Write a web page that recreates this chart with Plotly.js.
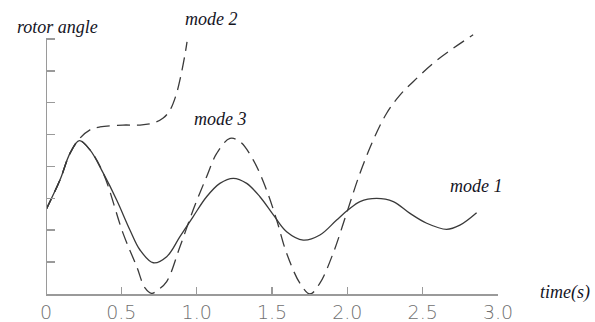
<!DOCTYPE html>
<html>
<head>
<meta charset="utf-8">
<script src="https://cdn.plot.ly/plotly-3.0.1.min.js"></script>
<style>html,body{margin:0;padding:0;background:#fff;}#chart{width:595px;height:322px;}</style>
</head>
<body>
<div id="chart"></div>
<script>
// time (s) and rotor angle (arbitrary units)
const mode1Time  = [0, 0.093, 0.159, 0.221, 0.292, 0.380, 0.469, 0.557, 0.624, 0.712, 0.801, 0.889, 0.977, 1.066, 1.154, 1.243, 1.332, 1.420, 1.509, 1.597, 1.707, 1.818, 1.929, 2.006, 2.084, 2.194, 2.305, 2.416, 2.527, 2.659, 2.747, 2.858];
const mode1Angle = [2.64, 3.58, 4.41, 4.81, 4.52, 3.79, 2.95, 2.01, 1.38, 0.98, 1.17, 1.80, 2.43, 3.05, 3.47, 3.63, 3.47, 3.05, 2.48, 1.95, 1.69, 1.85, 2.32, 2.64, 2.90, 3.00, 2.90, 2.53, 2.22, 2.03, 2.16, 2.55];

const mode2Time  = [0, 0.093, 0.159, 0.226, 0.292, 0.358, 0.511, 0.624, 0.710, 0.778, 0.823, 0.863, 0.896, 0.922, 0.936];
const mode2Angle = [2.64, 3.58, 4.41, 4.89, 5.15, 5.24, 5.30, 5.30, 5.36, 5.52, 5.77, 6.24, 6.87, 7.50, 7.91];

const mode3Time  = [0, 0.093, 0.159, 0.221, 0.292, 0.380, 0.511, 0.602, 0.657, 0.701, 0.743, 0.801, 0.889, 0.977, 1.066, 1.133, 1.221, 1.287, 1.376, 1.464, 1.531, 1.597, 1.685, 1.752, 1.818, 1.906, 1.995, 2.084, 2.172, 2.261, 2.349, 2.437, 2.570, 2.703, 2.835];
const mode3Angle = [2.64, 3.58, 4.41, 4.81, 4.52, 3.79, 1.91, 0.86, 0.19, 0.02, 0.13, 0.39, 1.48, 2.64, 3.68, 4.41, 4.88, 4.78, 4.20, 3.26, 2.32, 1.28, 0.34, 0.0, 0.34, 1.28, 2.53, 3.79, 4.83, 5.67, 6.24, 6.66, 7.24, 7.71, 8.13];

const xTickVals  = [0, 0.5, 1.0, 1.5, 2.0, 2.5, 3.0];
const xTickText  = ["0", "0.5", "1.0", "1.5", "2.0", "2.5", "3.0"];
const yTickVals  = [1, 2, 3, 4, 5, 6, 7, 8];

const curveLabels = ["mode 1", "mode 2", "mode 3"];
const axisLabels  = ["time(s)", "rotor angle"];

const lineColor = "#3a3a3a";
const dashPat = "13px,7px";

const traces = [
  {x: mode1Time, y: mode1Angle, mode: "lines", line: {color: lineColor, width: 1.3, shape: "spline", smoothing: 1}, name: curveLabels[0]},
  {x: mode2Time, y: mode2Angle, mode: "lines", line: {color: lineColor, width: 1.3, dash: dashPat, shape: "spline", smoothing: 1}, name: curveLabels[1]},
  {x: mode3Time, y: mode3Angle, mode: "lines", line: {color: lineColor, width: 1.3, dash: dashPat, shape: "spline", smoothing: 1}, name: curveLabels[2]}
];

const labelFont = {family: "Liberation Serif, DejaVu Serif, serif", size: 18, color: "#15151f", style: "italic"};

const layout = {
  width: 595, height: 322,
  margin: {l: 46, r: 97, t: 31, b: 28, pad: 0},
  paper_bgcolor: "#fff", plot_bgcolor: "#fff",
  showlegend: false,
  xaxis: {
    range: [0, 3.0], showgrid: false, zeroline: false,
    showline: true, linecolor: "#9a9a9a", linewidth: 2,
    ticks: "inside", ticklen: 7, tickwidth: 1.5, tickcolor: "#9a9a9a",
    tickvals: xTickVals, ticktext: xTickText,
    tickfont: {family: "DejaVu Sans", size: 19, color: "#707070", weight: 200}
  },
  yaxis: {
    range: [0, 8.25], showgrid: false, zeroline: false, showline: false,
    ticks: "inside", ticklen: 9, tickwidth: 1.5, tickcolor: "#9a9a9a",
    tickvals: yTickVals, showticklabels: false
  },
  shapes: [
    {type: "line", xref: "x", yref: "y", x0: 0, x1: 0, y0: 0, y1: yTickVals[yTickVals.length - 1], line: {color: "#9a9a9a", width: 2}}
  ],
  annotations: [
    {text: axisLabels[1], xref: "paper", yref: "paper", x: 0.0254, y: 1.015, xanchor: "center", yanchor: "middle", showarrow: false, font: labelFont},
    {text: curveLabels[1], xref: "paper", yref: "paper", x: 0.366, y: 1.046, xanchor: "center", yanchor: "middle", showarrow: false, font: labelFont},
    {text: curveLabels[2], xref: "paper", yref: "paper", x: 0.385, y: 0.665, xanchor: "center", yanchor: "middle", showarrow: false, font: labelFont},
    {text: curveLabels[0], xref: "paper", yref: "paper", x: 0.953, y: 0.411, xanchor: "center", yanchor: "middle", showarrow: false, font: labelFont},
    {text: axisLabels[0], xref: "paper", yref: "paper", x: 1.148, y: 0.0076, xanchor: "center", yanchor: "middle", showarrow: false, font: labelFont}
  ]
};

Plotly.newPlot("chart", traces, layout, {displayModeBar: false, staticPlot: true});
</script>
</body>
</html>
